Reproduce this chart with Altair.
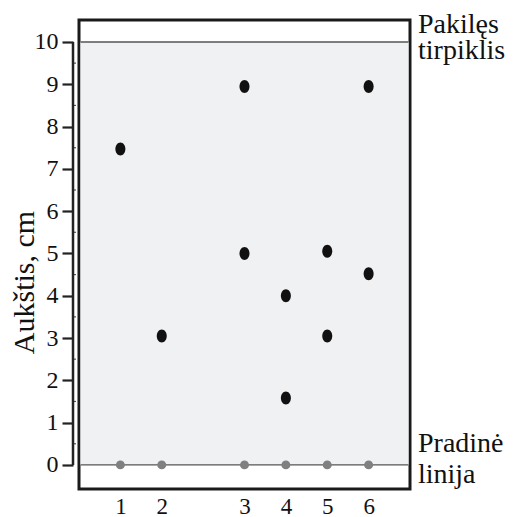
import altair as alt
import pandas as pd

# ---- data ----
spot_lane = [1, 2, 3, 3, 4, 4, 5, 5, 6, 6]
spot_height = [7.47, 3.05, 8.95, 5.0, 4.0, 1.58, 5.05, 3.05, 8.95, 4.52]
start_lane = [1, 2, 3, 4, 5, 6]
start_height = [0, 0, 0, 0, 0, 0]
y_ticks = [0, 1, 2, 3, 4, 5, 6, 7, 8, 9, 10]
y_minor = [0.5, 1.5, 2.5, 3.5, 4.5, 5.5, 6.5, 7.5, 8.5, 9.5]
solvent_front = 10
baseline_level = 0

W, H = 331, 469
FONT = "'Liberation Serif', 'Times New Roman', Times, serif"
POS = "datum.lane >= 3 ? datum.lane + 1 : datum.lane"

spots = pd.DataFrame({"lane": spot_lane, "h": spot_height})
starts = pd.DataFrame({"lane": start_lane, "h": start_height})
minor = pd.DataFrame({"v": y_minor})

xscale = alt.Scale(domain=[0, 8], nice=False, zero=False)
yscale = alt.Scale(domain=[-0.57, 10.52], nice=False, zero=False)

xaxis = alt.Axis(values=[1, 2, 4, 5, 6, 7], ticks=False, domain=False, grid=False,
                 labelExpr="datum.value < 3 ? datum.value : datum.value - 1",
                 labelFont=FONT, labelFontSize=23, labelColor="#111",
                 labelPadding=6, title=None)
yaxis = alt.Axis(values=y_ticks, domain=False, grid=False, offset=6,
                 tickSize=11, tickWidth=2.2, tickColor="#222",
                 labelFont=FONT, labelFontSize=24, labelColor="#111", labelPadding=4,
                 title="Aukštis, cm", titleFont=FONT, titleFontSize=30,
                 titleFontWeight="normal", titleColor="#111", titleAngle=270,
                 titleAlign="center", titleBaseline="middle",
                 titleX=-49, titleY=262)

band = alt.Chart(pd.DataFrame({"a": [0]})).mark_rect(color="#f0f1f3").encode(
    x=alt.value(1.5), x2=alt.value(W - 1.5),
    y=alt.Y(datum=baseline_level, scale=yscale, axis=yaxis),
    y2=alt.datum(solvent_front))

lines = alt.Chart(pd.DataFrame({"v": [baseline_level, solvent_front]})).mark_rule(
    color="#555", strokeWidth=1.4).encode(
    x=alt.value(1.5), x2=alt.value(W - 1.5),
    y=alt.Y("v:Q", scale=yscale))

axis_line = alt.Chart(pd.DataFrame({"a": [0]})).mark_rule(color="#222", strokeWidth=2.5).encode(
    x=alt.value(-6), y=alt.datum(0), y2=alt.datum(10))

minor_ticks = alt.Chart(minor).mark_rule(color="#555", strokeWidth=1.2).encode(
    x=alt.value(-6), x2=alt.value(-3), y=alt.Y("v:Q", scale=yscale))

start_pts = alt.Chart(starts).transform_calculate(pos=POS).mark_point(
    shape="circle", filled=True, size=80, color="#808080", opacity=1).encode(
    x=alt.X("pos:Q", scale=xscale, axis=xaxis),
    y=alt.Y("h:Q", scale=yscale))

ellipse = "M -0.77,0 A 0.77,1 0 1,0 0.77,0 A 0.77,1 0 1,0 -0.77,0 Z"
spot_pts = alt.Chart(spots).transform_calculate(pos=POS).mark_point(
    shape=ellipse, filled=True, size=169, color="#111", opacity=1).encode(
    x=alt.X("pos:Q", scale=xscale),
    y=alt.Y("h:Q", scale=yscale))

def label(txt, level, dy):
    return alt.Chart(pd.DataFrame({"t": [txt]})).mark_text(
        align="left", baseline="alphabetic", font=FONT, fontSize=28,
        color="#111", dy=dy).encode(
        x=alt.value(W + 8), y=alt.datum(level), text="t:N")

texts = (label("Pakilęs", solvent_front, -9) + label("tirpiklis", solvent_front, 17) +
         label("Pradinė", baseline_level, -13) + label("linija", baseline_level, 18))

chart = alt.layer(band, lines, minor_ticks, axis_line, start_pts, spot_pts, texts).properties(
    width=W, height=H,
    autosize=alt.AutoSizeParams(type="none"),
    padding={"left": 71, "top": 12, "right": 101, "bottom": 30},
    background="white",
).configure_view(stroke="#1a1a1a", strokeWidth=3)

chart.save("out.html", embed_options={"renderer": "svg", "actions": False})
